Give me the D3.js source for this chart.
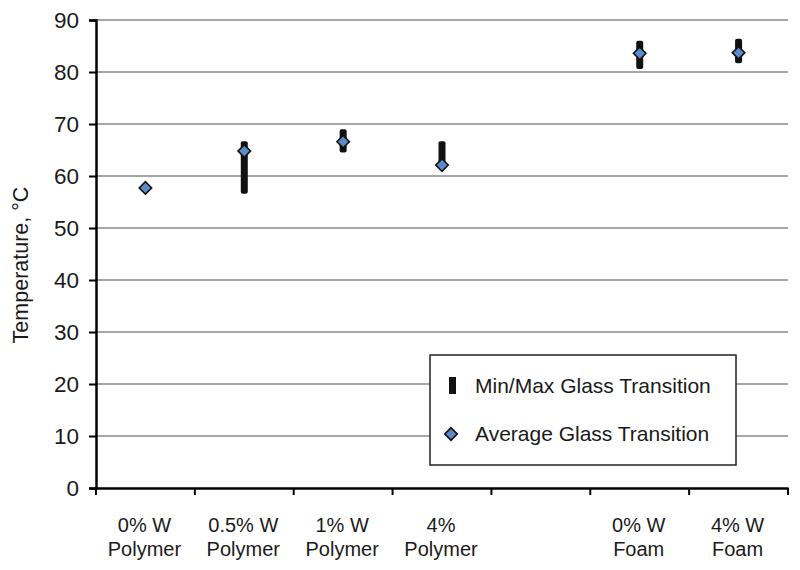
<!DOCTYPE html>
<html><head><meta charset="utf-8">
<script src="https://cdn.jsdelivr.net/npm/d3@7"></script>
<style>body{margin:0;background:#fff}svg{display:block}text{font-family:"Liberation Sans",Arial,sans-serif;fill:#1a1a1a}</style>
</head><body>
<svg id="c" width="800" height="570"></svg>
<script>
const categories = ["0% W|Polymer", "0.5% W|Polymer", "1% W|Polymer", "4%|Polymer", "", "0% W|Foam", "4% W|Foam"];
const avgValues = [57.7, 64.8, 66.6, 62.1, null, 83.6, 83.7];
const minValues = [57.3, 56.6, 64.5, 62.0, null, 80.6, 81.7];
const maxValues = [58.0, 66.7, 69.0, 66.7, null, 86.0, 86.4];
const yTicks = [0, 10, 20, 30, 40, 50, 60, 70, 80, 90];
const legendLabels = ["Min/Max Glass Transition", "Average Glass Transition"];

const svg = d3.select("#c");
const m = {l: 96, r: 12, t: 20, b: 82};
const x = d3.scaleBand().domain(categories.map((d,i)=>i)).range([m.l, 788]).padding(0);
const y = d3.scaleLinear().domain([0, 90]).range([488, 20]);

// gridlines
svg.append("g").selectAll("line").data(yTicks.filter(d=>d>0)).join("line")
  .attr("x1", m.l).attr("x2", 788).attr("y1", d=>y(d)).attr("y2", d=>y(d))
  .attr("stroke", "#a6a6a6").attr("stroke-width", 2);

// y axis
const ya = svg.append("g").attr("transform", `translate(${m.l},0)`)
  .call(d3.axisLeft(y).tickValues(yTicks).tickSize(7).tickPadding(10));
ya.select(".domain").attr("stroke", "#000").attr("stroke-width", 2.5);
ya.selectAll(".tick line").attr("stroke", "#000").attr("stroke-width", 2);
ya.selectAll(".tick text").attr("font-size", 22.5).attr("fill", "#1a1a1a")
  .style("font-family", '"Liberation Sans", Arial, sans-serif');

// x axis
const xa = svg.append("g").attr("transform", `translate(0,${y(0)})`)
  .call(d3.axisBottom(x).tickSize(0).tickFormat(""));
xa.select(".domain").attr("stroke", "#000").attr("stroke-width", 2.5);
const bounds = categories.map((d,i)=>x(i)).concat([x(categories.length-1)+x.bandwidth()]);
xa.selectAll(".bt").data(bounds).join("line").attr("class","bt")
  .attr("x1", d=>d).attr("x2", d=>d).attr("y1", 0).attr("y2", 7)
  .attr("stroke", "#000").attr("stroke-width", 2);
// category labels
categories.forEach((c,i)=>{
  if(!c) return;
  const parts = c.split("|");
  const t = svg.append("text").attr("text-anchor","middle").attr("font-size",20)
    .attr("transform", `translate(${x(i)+x.bandwidth()/2-1},0)`);
  parts.forEach((p,j)=>t.append("tspan").attr("x",0).attr("y", 532 + j*24).text(p));
});

// y title
svg.append("text").attr("text-anchor","middle").attr("font-size",21.5)
  .attr("transform","translate(28,265) rotate(-90)").text("Temperature, °C");

// min/max bars
const idx = categories.map((d,i)=>i).filter(i=>avgValues[i]!=null);
svg.append("g").selectAll("rect").data(idx).join("rect")
  .attr("x", i=>x(i)+x.bandwidth()/2-3.5).attr("width", 7)
  .attr("y", i=>y(maxValues[i])).attr("height", i=>y(minValues[i])-y(maxValues[i]))
  .attr("rx", 2).attr("fill", "#111");

// average diamonds
const dia = d3.symbol().type(d3.symbolSquare).size(78);
svg.append("g").selectAll("path").data(idx).join("path")
  .attr("d", dia)
  .attr("transform", i=>`translate(${x(i)+x.bandwidth()/2},${y(avgValues[i])}) rotate(45)`)
  .attr("fill", "#5b8cc9").attr("stroke", "#111").attr("stroke-width", 1.6);

// legend
const lg = svg.append("g");
lg.append("rect").attr("x",430).attr("y",355).attr("width",306).attr("height",110)
  .attr("fill","#fff").attr("stroke","#222").attr("stroke-width",1.5);
lg.append("rect").attr("x",449).attr("y",377).attr("width",7).attr("height",17).attr("fill","#111");
lg.append("path").attr("d", dia).attr("transform","translate(451,434) rotate(45)")
  .attr("fill", "#5b8cc9").attr("stroke", "#111").attr("stroke-width", 1.6);
lg.selectAll("text").data(legendLabels).join("text")
  .attr("x", 475).attr("y", (d,i)=>393 + i*48).attr("font-size", 21).text(d=>d);
</script>
</body></html>
